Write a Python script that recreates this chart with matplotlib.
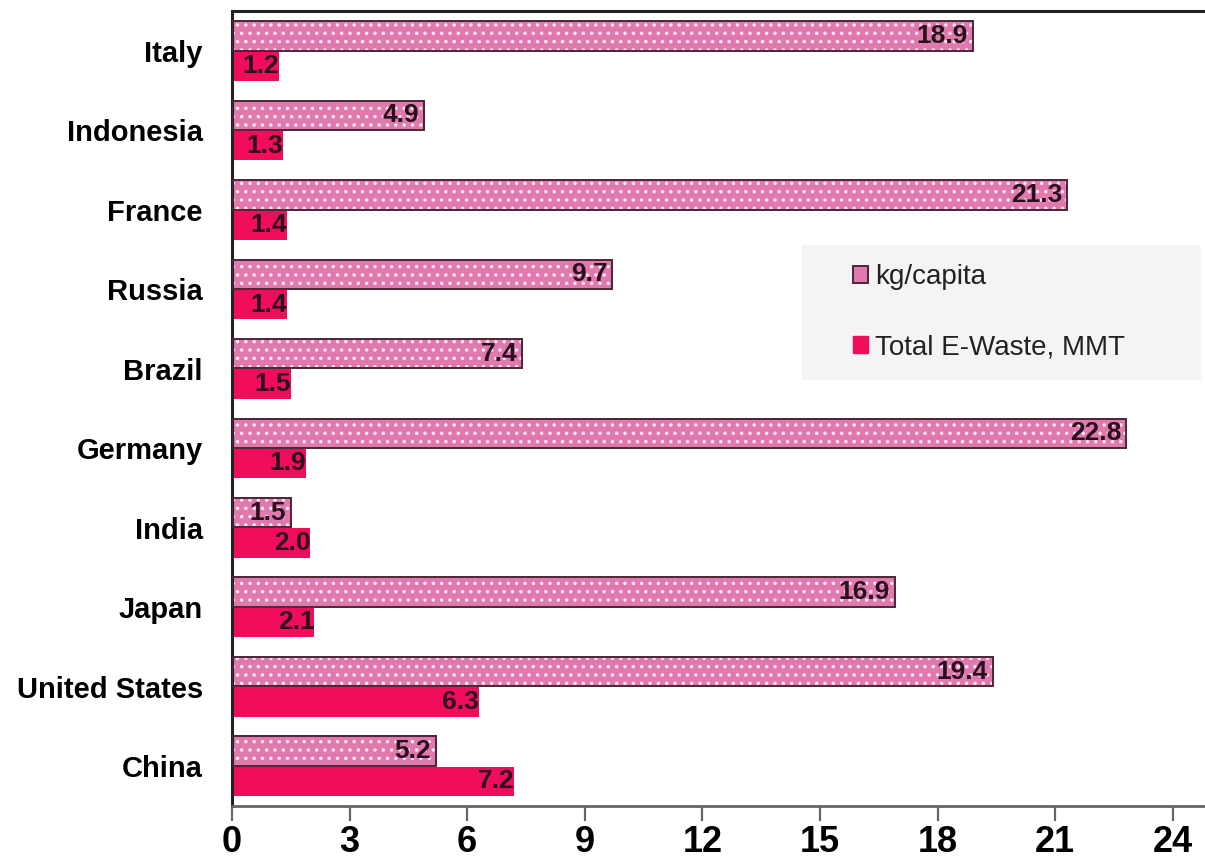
import matplotlib
matplotlib.use("Agg")
import matplotlib.pyplot as plt
import numpy as np
from matplotlib.patches import Patch, Rectangle

countries = ["Italy", "Indonesia", "France", "Russia", "Brazil", "Germany",
             "India", "Japan", "United States", "China"]
kg_per_capita = [18.9, 4.9, 21.3, 9.7, 7.4, 22.8, 1.5, 16.9, 19.4, 5.2]
total_mmt = [1.2, 1.3, 1.4, 1.4, 1.5, 1.9, 2.0, 2.1, 6.3, 7.2]
xticks = [0, 3, 6, 9, 12, 15, 18, 21, 24]

PINK = "#E07AAE"
RED = "#F20C5C"
EDGE = "#4a2535"
TXT = "#2a0f1c"
FAM = ["Liberation Sans", "DejaVu Sans"]

plt.rcParams['hatch.linewidth'] = 1.3

fig = plt.figure(figsize=(12.05, 8.67), dpi=100)
ax = fig.add_axes([0.1925, 0.0704, 0.8075, 0.9166])

n = len(countries)
y = np.arange(n)[::-1]  # Italy at top
h = 0.37
yk = y + h / 2 + 0.005
yt = y - h / 2 - 0.005

# pink bars with white dotted hatch
ax.barh(yk, kg_per_capita, height=h, color=PINK, edgecolor="#fbe6f0",
        hatch="..", linewidth=0, zorder=2)
ax.barh(yk, kg_per_capita, height=h, fill=False, edgecolor=EDGE,
        linewidth=1.4, zorder=3)
ax.barh(yt, total_mmt, height=h, color=RED, edgecolor=RED, linewidth=0, zorder=2)

for yy, v in zip(yk, kg_per_capita):
    ax.text(v - 0.12, yy, f"{v:.1f}", ha="right", va="center", fontsize=19,
            fontweight="bold", color=TXT, family=FAM, zorder=4)
for yy, v in zip(yt, total_mmt):
    ax.text(v + 0.0, yy, f"{v:.1f}", ha="right", va="center", fontsize=19,
            fontweight="bold", color=TXT, family=FAM, zorder=4)

ax.set_xlim(0, 24.82)
ax.set_ylim(-0.5, n - 0.5)
ax.set_yticks(y)
ax.set_yticklabels(countries, fontsize=21, fontweight="bold", family=FAM)
ax.set_xticks(xticks)
ax.set_xticklabels([str(t) for t in xticks], fontsize=26, fontweight="bold", family=FAM)
ax.tick_params(axis="y", length=0, pad=21)
ax.tick_params(axis="x", length=11, width=1.6, direction="out", pad=3, color="#666666")

ax.spines["left"].set_linewidth(2.2)
ax.spines["left"].set_color("#222222")
ax.spines["top"].set_linewidth(2.2)
ax.spines["top"].set_color("#222222")
ax.spines["bottom"].set_linewidth(2.0)
ax.spines["bottom"].set_color("#666666")
ax.spines["right"].set_visible(False)

# legend background panel
ax.add_patch(Rectangle((0.586, 0.536), 0.41, 0.17, transform=ax.transAxes,
                       facecolor="#f4f4f4", edgecolor="none", zorder=5))

handles = [Patch(facecolor=PINK, edgecolor=EDGE, linewidth=1.4),
           Patch(facecolor=RED, edgecolor=RED)]
leg = ax.legend(handles, ["kg/capita", "Total E-Waste, MMT"],
                loc="center left", bbox_to_anchor=(0.638, 0.621),
                fontsize=20, frameon=False,
                handlelength=0.55, handleheight=0.55, handletextpad=0.25,
                labelspacing=1.6, borderpad=0, borderaxespad=0)
leg.set_zorder(6)
for t in leg.get_texts():
    t.set_family(FAM)
    t.set_color("#222222")

fig.savefig("out.png", dpi=100)
